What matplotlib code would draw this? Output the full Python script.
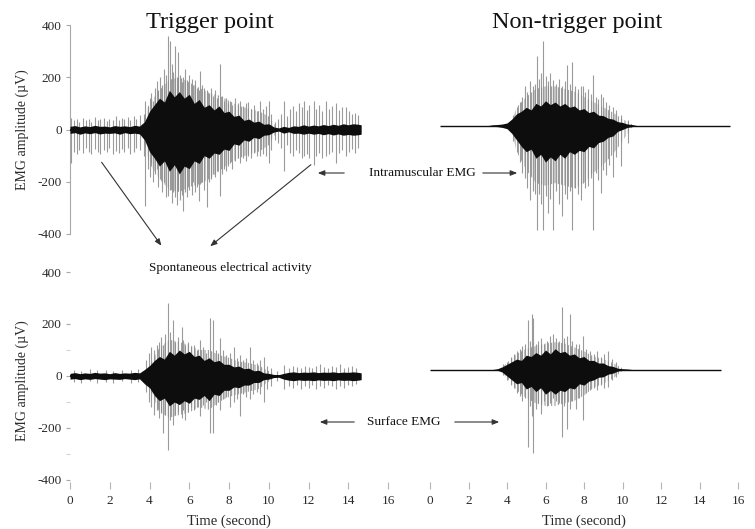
import matplotlib
matplotlib.use("Agg")
import matplotlib.pyplot as plt
from matplotlib.patches import FancyArrowPatch

plt.rcParams['font.family'] = ['Liberation Serif', 'DejaVu Serif']
plt.rcParams['hatch.linewidth'] = 0.7

W, H = 755, 529

# ---------------- data (µV, seconds) ----------------
# Envelope time grid for the dense black core of each EMG trace
env_t = [0.0, 0.25, 0.5, 0.75, 1.0, 1.25, 1.5, 1.75, 2.0, 2.25, 2.5, 2.75, 3.0, 3.25, 3.5,
         3.75, 4.0, 4.25, 4.5, 4.75, 5.0, 5.25, 5.5, 5.75, 6.0, 6.25, 6.5, 6.75, 7.0, 7.25,
         7.5, 7.75, 8.0, 8.25, 8.5, 8.75, 9.0, 9.25, 9.5, 9.75, 10.0, 10.25, 10.5, 10.75, 11.0,
         11.25, 11.5, 11.75, 12.0, 12.25, 12.5, 12.75, 13.0, 13.25, 13.5, 13.75, 14.0, 14.25,
         14.5, 14.65]

# --- Trigger point, intramuscular EMG ---
tl_core_up = [12, 15, 10, 14, 11, 16, 12, 13, 10, 15, 12, 14, 11, 16, 13,
              30,
              70, 95, 120, 105, 150, 125, 145, 120, 135, 100, 115, 85, 95, 75,
              90, 65, 70, 50, 55, 35, 40, 28, 32, 20, 22, 10, 6, 12, 8,
              14, 12, 18, 13, 17, 14, 19, 15, 20, 16, 22, 18, 22, 20, 18]
tl_core_dn = [-15, -12, -18, -13, -16, -12, -17, -14, -15, -13, -18, -12, -16, -14, -17,
              -40,
              -85, -110, -140, -120, -160, -135, -170, -140, -150, -120, -130, -100, -110, -90,
              -95, -75, -80, -55, -60, -40, -45, -30, -35, -22, -20, -10, -6, -14, -9,
              -15, -14, -18, -14, -18, -15, -20, -16, -21, -17, -22, -19, -22, -20, -18]
# grey haze of dense spikes around the core
tl_mid_t = [3.6, 4.0, 4.5, 5.0, 5.5, 6.0, 6.5, 7.0, 7.5, 8.0, 8.5, 9.0, 9.5, 10.0, 10.4]
tl_mid_up = [15, 100, 150, 190, 200, 180, 160, 140, 130, 110, 90, 80, 70, 50, 10]
tl_mid_dn = [-20, -130, -190, -230, -240, -220, -210, -190, -160, -130, -110, -95, -85, -60, -10]
tl_sp_t = [0.05, 0.18, 0.36, 0.47, 0.66, 0.79, 0.97, 1.08, 1.27, 1.41, 1.53, 1.72, 1.86, 1.98,
           2.17, 2.29, 2.46, 2.62, 2.73, 2.91, 3.04, 3.22, 3.33, 3.51,
           3.7, 3.78, 3.9, 4.0, 4.1, 4.2, 4.3, 4.37, 4.45, 4.55, 4.65, 4.75, 4.85, 4.94,
           5.04, 5.12, 5.2, 5.29, 5.38, 5.45, 5.55, 5.63, 5.71, 5.8, 5.9, 6.0, 6.13, 6.2,
           6.3, 6.4, 6.47, 6.55, 6.65, 6.75, 6.89, 7.0, 7.1, 7.2, 7.3, 7.4, 7.56, 7.65,
           7.75, 7.85, 7.95, 8.05, 8.15, 8.3, 8.45, 8.56, 8.7, 8.85, 8.95, 9.1, 9.25, 9.4,
           9.57, 9.7, 9.85, 9.99, 10.1,
           10.3, 10.45, 10.6, 10.75, 10.9, 11.05, 11.2, 11.35, 11.5, 11.65, 11.75, 11.9,
           12.05, 12.26, 12.4, 12.55, 12.7, 12.9, 13.05, 13.2, 13.4, 13.55, 13.7, 13.9,
           14.05, 14.2, 14.35, 14.5]
tl_sp_up = [45, 35, 40, 30, 45, 38, 42, 30, 48, 35, 40, 45, 32, 42,
            38, 50, 35, 44, 40, 48, 36, 52, 42, 55,
            60, 108, 90, 120, 140, 110, 160, 185, 150, 200, 170, 230, 210, 357,
            340, 250, 220, 319, 200, 295, 210, 180, 200, 230, 190, 210, 195, 170,
            190, 160, 150, 223, 170, 160, 150, 140, 160, 130, 150, 120, 249, 130,
            110, 120, 100, 110, 95, 120, 100, 108, 90, 100, 105, 80, 95, 70,
            108, 80, 90, 108, 60,
            30, 40, 60, 111, 50, 80, 90, 70, 100, 85, 108, 75,
            95, 111, 80, 95, 70, 108, 80, 90, 100, 75, 85, 85,
            70, 60, 65, 55]
tl_sp_dn = [-130, -85, -95, -80, -90, -70, -88, -95, -75, -85, -92, -78, -88, -70,
            -95, -82, -90, -76, -88, -72, -95, -85, -70, -80,
            -100, -294, -150, -180, -130, -200, -170, -150, -220, -190, -240, -200, -260, -255,
            -230, -280, -240, -260, -290, -230, -270, -250, -313, -240, -260, -230, -250, -200,
            -240, -220, -275, -210, -200, -230, -295, -200, -190, -170, -180, -160, -256, -170,
            -150, -160, -140, -130, -150, -120, -110, -130, -110, -120, -100, -110, -90, -100,
            -103, -95, -100, -127, -80,
            -40, -50, -70, -160, -60, -90, -100, -80, -90, -110, -100, -95,
            -110, -134, -100, -90, -110, -100, -95, -85, -127, -90, -80, -100,
            -85, -75, -90, -70]

# --- Non-trigger point, intramuscular EMG (relative to its own baseline) ---
tr_base = 15
tr_span = [0.5, 15.6]
tr_core_up = [0, 0, 0, 0, 0, 0, 0, 0, 0, 0, 0, 0, 0,
              3, 4, 6, 10, 25, 45, 55, 70, 60, 85, 75, 95, 80, 90, 75, 85, 70,
              75, 60, 65, 50, 55, 40, 38, 28, 25, 15, 12, 6, 4,
              0, 0, 0, 0, 0, 0, 0, 0, 0, 0, 0, 0, 0, 0, 0, 0, 0]
tr_core_dn = [0, 0, 0, 0, 0, 0, 0, 0, 0, 0, 0, 0, 0,
              -3, -4, -7, -12, -30, -55, -80, -100, -90, -125, -110, -140, -120, -135, -110, -125, -100,
              -110, -95, -100, -80, -85, -65, -60, -45, -40, -22, -15, -7, -4,
              0, 0, 0, 0, 0, 0, 0, 0, 0, 0, 0, 0, 0, 0, 0, 0, 0]
tr_mid_t = [4.2, 4.5, 5.0, 5.5, 6.0, 6.5, 7.0, 7.5, 8.0, 8.5, 9.0, 9.5, 10.0, 10.5]
tr_mid_up = [5, 70, 110, 140, 150, 150, 140, 130, 110, 90, 70, 50, 25, 5]
tr_mid_dn = [-5, -100, -170, -220, -230, -220, -230, -240, -220, -180, -150, -110, -60, -5]
tr_sp_t = [4.3, 4.5, 4.65, 4.8, 4.95, 5.05, 5.2, 5.35, 5.45, 5.56, 5.65, 5.75, 5.87,
           6.0, 6.13, 6.25, 6.4, 6.55, 6.7, 6.86, 7.0, 7.1, 7.25, 7.4, 7.55, 7.7, 7.86,
           7.95, 8.05, 8.2, 8.35, 8.47, 8.6, 8.75, 8.9, 9.0, 9.15, 9.3, 9.5, 9.65, 9.9, 10.3]
tr_sp_up = [40, 70, 90, 110, 150, 130, 170, 150, 160, 265, 180, 200, 322,
            190, 170, 200, 176, 160, 180, 150, 170, 230, 160, 245, 150, 140, 150,
            153, 130, 140, 120, 195, 110, 100, 120, 111, 90, 80, 70, 60, 40, 20]
tr_sp_dn = [-60, -100, -140, -180, -200, -240, -283, -250, -260, -400, -260, -300, -400,
            -270, -333, -280, -400, -250, -300, -346, -260, -280, -250, -400, -240, -260, -283,
            -220, -240, -233, -200, -400, -180, -210, -257, -170, -190, -150, -195, -120, -156, -66]

# --- Trigger point, surface EMG ---
bl_core_up = [10, 13, 9, 12, 10, 14, 11, 12, 9, 13, 10, 12, 11, 14, 12,
              25,
              40, 60, 75, 65, 95, 80, 100, 85, 95, 75, 80, 60, 70, 55,
              60, 45, 45, 35, 38, 28, 30, 20, 22, 12, 10, 6, 5, 10, 14,
              16, 13, 15, 14, 16, 13, 15, 14, 16, 13, 15, 14, 16, 14, 12]
bl_core_dn = [-12, -10, -14, -11, -13, -10, -12, -14, -11, -12, -13, -10, -12, -14, -11,
              -30,
              -45, -75, -95, -85, -115, -100, -110, -95, -105, -85, -90, -75, -95, -70,
              -75, -55, -55, -42, -45, -35, -35, -25, -25, -14, -12, -6, -5, -12, -16,
              -18, -15, -17, -16, -18, -15, -17, -16, -18, -15, -17, -16, -18, -16, -14]
bl_mid_t = [3.8, 4.5, 5.0, 5.5, 6.0, 6.5, 7.0, 7.5, 8.0, 8.5, 9.0, 9.5, 10.2]
bl_mid_up = [10, 110, 140, 130, 120, 100, 100, 80, 70, 55, 50, 40, 10]
bl_mid_dn = [-10, -140, -160, -150, -140, -120, -130, -100, -80, -70, -60, -50, -10]
bl_sp_t = [0.2, 0.55, 1.0, 1.35, 1.8, 2.15, 2.6, 3.05, 3.4,
           3.8, 3.95, 4.1, 4.25, 4.37, 4.5, 4.6, 4.7, 4.8, 4.95, 5.05, 5.2, 5.3, 5.45,
           5.63, 5.7, 5.8, 5.95, 6.1, 6.25, 6.4, 6.55, 6.7, 6.85, 7.05, 7.22, 7.35, 7.45,
           7.56, 7.7, 7.85, 8.06, 8.23, 8.4, 8.55, 8.7, 8.85, 9.07, 9.2, 9.4, 9.55, 9.74,
           9.9, 10.1, 10.4, 10.75, 11.0, 11.2, 11.4, 11.6, 11.8, 12.0, 12.2, 12.4, 12.6,
           12.8, 13.0, 13.2, 13.4, 13.6, 13.8, 14.0, 14.2, 14.4]
bl_sp_up = [25, 20, 28, 22, 25, 20, 24, 22, 26,
            60, 90, 110, 100, 120, 130, 150, 120, 160, 281, 170, 215, 130, 150,
            190, 140, 120, 130, 110, 120, 100, 138, 110, 90, 223, 215, 100, 90,
            146, 100, 80, 90, 112, 70, 80, 60, 70, 112, 60, 50, 60, 73,
            40, 30, 20, 42, 30, 40, 35, 30, 40, 35, 30, 40, 45,
            35, 30, 40, 35, 45, 30, 35, 40, 30]
bl_sp_dn = [-22, -25, -20, -28, -22, -25, -20, -26, -22,
            -60, -100, -120, -150, -130, -160, -140, -220, -150, -285, -170, -190, -150, -140,
            -160, -130, -170, -140, -120, -130, -120, -155, -110, -100, -220, -220, -110, -100,
            -130, -90, -80, -118, -100, -90, -155, -70, -80, -90, -70, -60, -70, -100,
            -50, -40, -20, -50, -40, -45, -35, -50, -40, -45, -35, -50, -40,
            -45, -35, -40, -50, -40, -45, -35, -40, -30]

# --- Non-trigger point, surface EMG (relative to its own baseline) ---
br_base = 25
br_span = [0.0, 15.1]
br_core_up = [0, 0, 0, 0, 0, 0, 0, 0, 0, 0, 0, 0, 0, 0, 3,
              10,
              20, 30, 40, 35, 55, 50, 65, 55, 75, 60, 80, 65, 70, 55,
              60, 45, 50, 35, 35, 25, 25, 15, 12, 5, 3, 2,
              0, 0, 0, 0, 0, 0, 0, 0, 0, 0, 0, 0, 0, 0, 0, 0, 0, 0]
br_core_dn = [0, 0, 0, 0, 0, 0, 0, 0, 0, 0, 0, 0, 0, 0, -3,
              -10,
              -25, -40, -55, -50, -75, -65, -85, -70, -95, -80, -95, -80, -85, -70,
              -75, -55, -60, -45, -40, -30, -28, -18, -14, -6, -3, -2,
              0, 0, 0, 0, 0, 0, 0, 0, 0, 0, 0, 0, 0, 0, 0, 0, 0, 0]
br_mid_t = [3.7, 4.5, 5.0, 5.5, 6.0, 6.5, 7.0, 7.5, 8.0, 8.5, 9.0, 9.5, 10.0]
br_mid_up = [5, 60, 80, 90, 100, 105, 100, 85, 70, 50, 40, 25, 5]
br_mid_dn = [-5, -80, -110, -130, -140, -140, -130, -120, -100, -70, -55, -35, -5]
br_sp_t = [3.8, 4.0, 4.2, 4.35, 4.5, 4.65, 4.8, 4.95, 5.1, 5.2, 5.28, 5.37, 5.5, 5.62,
           5.75, 5.9, 6.1, 6.25, 6.4, 6.55, 6.7, 6.84, 6.95, 7.1, 7.27, 7.4, 7.6, 7.75,
           7.96, 8.1, 8.3, 8.5, 8.7, 8.9, 9.05, 9.25, 9.45, 9.65]
br_sp_up = [20, 30, 50, 60, 70, 80, 90, 100, 190, 110, 215, 200, 100, 110,
            120, 100, 110, 130, 138, 120, 110, 240, 120, 130, 215, 110, 100, 100,
            130, 80, 70, 60, 70, 50, 60, 73, 40, 30]
br_sp_dn = [-20, -40, -60, -70, -92, -100, -120, -110, -299, -140, -180, -323, -150, -130,
            -170, -120, -140, -130, -110, -120, -130, -260, -140, -227, -150, -120, -150, -110,
            -196, -90, -80, -70, -80, -60, -70, -68, -40, -30]

yticks = [-400, -200, 0, 200, 400]
xticks = [0, 2, 4, 6, 8, 10, 12, 14, 16]

SPIKE_C = '#9a9a9a'
MID_C = '#8a8a8a'
CORE_C = '#0d0d0d'

fig = plt.figure(figsize=(W / 100, H / 100), dpi=100)


def fx(px):
    return px / W


def fy(py):
    return 1 - py / H


y_lo_bottom = -400 - 9 / 0.26
ax_tl = fig.add_axes([fx(70), fy(234), 318 / W, 209 / H])
ax_tr = fig.add_axes([fx(430), fy(234), 308 / W, 209 / H])
ax_bl = fig.add_axes([fx(70), fy(489), 318 / W, 217 / H])
ax_br = fig.add_axes([fx(430), fy(489), 308 / W, 217 / H])


def draw_trace(ax, base, sp_t, sp_up, sp_dn, mid_t, mid_up, mid_dn, core_up, core_dn, span=None):
    b = base
    ax.vlines(sp_t, [b + v for v in sp_dn], [b + v for v in sp_up],
              colors=SPIKE_C, lw=0.8, zorder=2)
    ax.fill_between(mid_t, [b + v for v in mid_dn], [b + v for v in mid_up],
                    facecolor='none', edgecolor=MID_C, hatch='|||||', lw=0, zorder=2)
    ax.fill_between(env_t, [b + v for v in core_dn], [b + v for v in core_up],
                    color=CORE_C, lw=0, zorder=3)
    if span is not None:
        ax.hlines(b, span[0], span[1], colors=CORE_C, lw=1.0, zorder=4)
    else:
        ax.hlines(b, env_t[0], env_t[-1], colors=CORE_C, lw=1.3, zorder=4)


draw_trace(ax_tl, 0, tl_sp_t, tl_sp_up, tl_sp_dn, tl_mid_t, tl_mid_up, tl_mid_dn,
           tl_core_up, tl_core_dn)
draw_trace(ax_tr, tr_base, tr_sp_t, tr_sp_up, tr_sp_dn, tr_mid_t, tr_mid_up, tr_mid_dn,
           tr_core_up, tr_core_dn, tr_span)
draw_trace(ax_bl, 0, bl_sp_t, bl_sp_up, bl_sp_dn, bl_mid_t, bl_mid_up, bl_mid_dn,
           bl_core_up, bl_core_dn)
draw_trace(ax_br, br_base, br_sp_t, br_sp_up, br_sp_dn, br_mid_t, br_mid_up, br_mid_dn,
           br_core_up, br_core_dn, br_span)

for ax in (ax_tl, ax_tr, ax_bl, ax_br):
    ax.set_xlim(0, 16)
    for s in ax.spines.values():
        s.set_visible(False)
    ax.patch.set_alpha(0)

ax_tl.set_ylim(-400, 400)
ax_tr.set_ylim(-400, 400)
ax_bl.set_ylim(y_lo_bottom, 400)
ax_br.set_ylim(y_lo_bottom, 400)

ax_tl.spines['left'].set_visible(True)
ax_tl.spines['left'].set_color('#a8a8a8')
ax_tl.spines['left'].set_linewidth(0.8)
for ax in (ax_tl, ax_bl):
    ax.set_yticks(yticks)
    ax.set_yticklabels([str(v) for v in yticks])
    ax.tick_params(axis='y', direction='out', length=3, width=0.8, color='#a8a8a8',
                   labelsize=9.5, pad=3, labelcolor='#2a2a2a')
    ax.set_ylabel('EMG amplitude (µV)', fontsize=10, color='#2a2a2a', labelpad=6)
ax_bl.set_yticks([-300, -100, 100], minor=True)
ax_bl.tick_params(axis='y', which='minor', direction='out', length=3, width=0.8, color='#d5d5d5')

for ax in (ax_tl, ax_tr):
    ax.set_xticks([])
ax_tr.set_yticks([])
ax_br.set_yticks([])

for ax in (ax_bl, ax_br):
    ax.set_xticks(xticks)
    ax.set_xticklabels([str(v) for v in xticks])
    ax.tick_params(axis='x', direction='in', length=5, width=0.8, color='#b5b5b5',
                   labelsize=9.5, pad=4, labelcolor='#2a2a2a')
    ax.set_xlabel('Time (second)', fontsize=10.5, color='#2a2a2a', labelpad=6)

# Titles
fig.text(fx(210), fy(28), 'Trigger point', fontsize=17.5, ha='center', va='baseline', color='#111111')
fig.text(fx(577), fy(28), 'Non-trigger point', fontsize=17.5, ha='center', va='baseline', color='#111111')

# Annotations
ann_c = '#333333'
fig.text(fx(422), fy(173), 'Intramuscular EMG', fontsize=9.5, ha='center', va='center', color='#111111')
fig.text(fx(404), fy(422), 'Surface EMG', fontsize=9.5, ha='center', va='center', color='#111111')
fig.text(fx(230), fy(268), 'Spontaneous electrical activity', fontsize=9.5, ha='center', va='center',
         color='#111111')

arrows = [((347, 173), (315, 173)), ((480, 173), (520, 173)),
          ((357, 422), (317, 422)), ((452, 422), (502, 422)),
          ((100, 160), (163, 248)), ((313, 163), (208, 248))]
for (x0, y0), (x1, y1) in arrows:
    fig.add_artist(FancyArrowPatch(
        (fx(x0), fy(y0)), (fx(x1), fy(y1)), transform=fig.transFigure,
        arrowstyle='-|>,head_length=4,head_width=1.6', color=ann_c, lw=0.8))

fig.savefig('out.png', dpi=100)
